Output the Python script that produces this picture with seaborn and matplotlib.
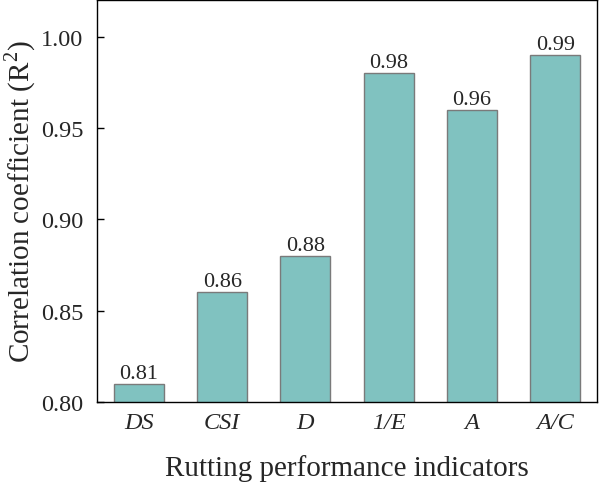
import matplotlib
matplotlib.use("Agg")
import matplotlib.pyplot as plt
import seaborn as sns
import pandas as pd

categories = ["DS", "CSI", "D", "1/E", "A", "A/C"]
values = [0.81, 0.86, 0.88, 0.98, 0.96, 0.99]
value_labels = ["0.81", "0.86", "0.88", "0.98", "0.96", "0.99"]
yticks = [0.80, 0.85, 0.90, 0.95, 1.00]

sns.set_theme(style="ticks")
plt.rcParams['font.family'] = ['Liberation Serif', 'DejaVu Serif']
plt.rcParams['mathtext.fontset'] = 'custom'
plt.rcParams['mathtext.rm'] = 'Liberation Serif'

df = pd.DataFrame({"cat": categories, "val": values})

fig = plt.figure(figsize=(6, 4.85), dpi=100)
ax = fig.add_axes([0.162, 0.169, 0.833, 0.829])
sns.barplot(data=df, x="cat", y="val", color="#80c2c0", saturation=1,
            width=0.6, edgecolor="#7a7a7a", linewidth=1.0, ax=ax)

for i, (v, lab) in enumerate(zip(values, value_labels)):
    ax.text(i, v + 0.0005, lab, ha="center", va="bottom", fontsize=16)

ax.set_ylim(0.80, 1.02)
ax.set_xlim(-0.5, 5.5)
ax.set_yticks(yticks)
ax.set_yticklabels([f"{t:.2f}" for t in yticks], fontsize=17.5)
ax.set_xticks(range(len(categories)))
ax.set_xticklabels(categories, fontsize=17.5, style="italic")
ax.tick_params(axis="y", direction="in", length=5, width=1, color="black", pad=10)
ax.tick_params(axis="x", direction="in", length=5, width=1, color="black", pad=7)
ax.set_xlabel("Rutting performance indicators", fontsize=21, labelpad=15)
ax.set_ylabel("Correlation coefficient (R$^2$)", fontsize=21, labelpad=2)
for s in ax.spines.values():
    s.set_visible(True)
    s.set_color("black")
    s.set_linewidth(1.0)

fig.savefig("out.png", dpi=100)
